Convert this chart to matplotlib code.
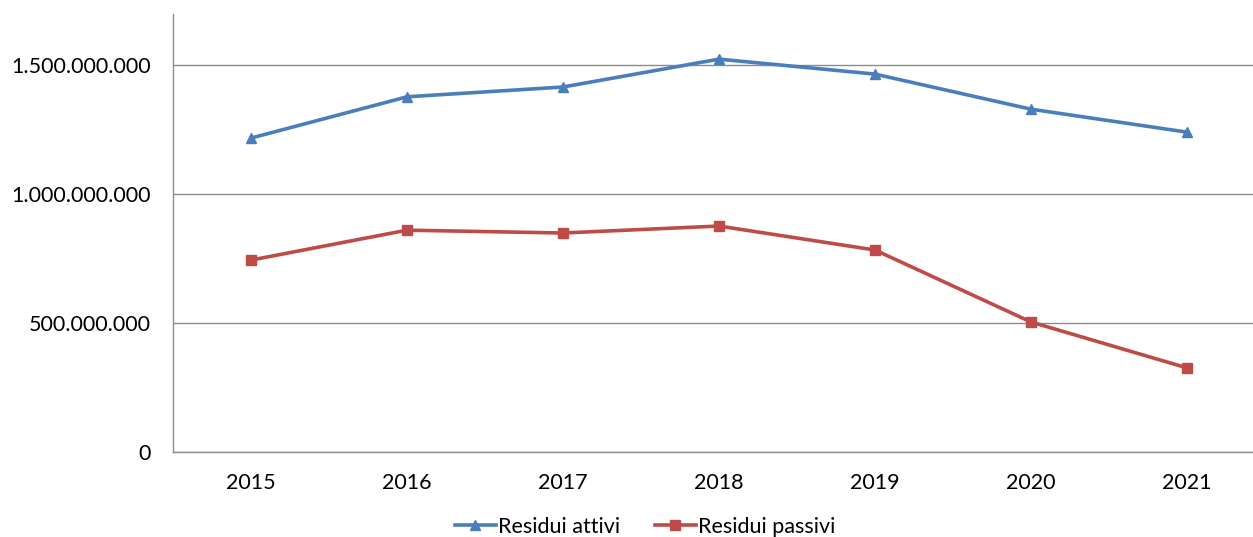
import matplotlib
matplotlib.use("Agg")
import matplotlib.pyplot as plt
from matplotlib.ticker import FuncFormatter

years = ["2015", "2016", "2017", "2018", "2019", "2020", "2021"]
residui_attivi = [1217e6, 1377e6, 1415e6, 1523e6, 1465e6, 1329e6, 1240e6]
residui_passivi = [744e6, 860e6, 849e6, 876e6, 783e6, 504e6, 326e6]

plt.rcParams['font.family'] = ['Lato', 'DejaVu Sans']

W, H = 1253, 537
fig = plt.figure(figsize=(W/100, H/100), dpi=100)
left, right, top, bottom = 173, 1253, 14, 452
ax = fig.add_axes([left/W, 1 - bottom/H, (right-left)/W, (bottom-top)/H])

x = list(range(len(years)))
ax.plot(x, residui_attivi, color='#4A7EBB', lw=2.6, marker='^', ms=7.5, label='Residui attivi', clip_on=False)
ax.plot(x, residui_passivi, color='#BE4B48', lw=2.6, marker='s', ms=6.5, label='Residui passivi', clip_on=False)

ax.set_xlim(-0.5, (1253-251)/156)
ax.set_ylim(0, 1.698e9)
ax.set_yticks([0, 5e8, 1e9, 1.5e9])
ax.yaxis.set_major_formatter(FuncFormatter(lambda v, p: "0" if v == 0 else f"{int(v):,}".replace(",", ".")))
ax.set_xticks(x)
ax.set_xticklabels(years)
ax.tick_params(axis='both', length=0, labelsize=15.5, colors='black')
ax.tick_params(axis='y', pad=16)
ax.tick_params(axis='x', pad=15)
ax.grid(axis='y', color='#8C8C8C', lw=1)
ax.set_axisbelow(True)
for s in ['top', 'right']:
    ax.spines[s].set_visible(False)
for s in ['left', 'bottom']:
    ax.spines[s].set_color('#8C8C8C')
    ax.spines[s].set_linewidth(1)

leg = fig.legend(loc='center', bbox_to_anchor=(645/W, 1 - 527/H), ncol=2, frameon=False,
                 fontsize=15.5, handlelength=1.9, handletextpad=0.1, columnspacing=1.6,
                 borderpad=0)
fig.savefig("out.png", dpi=100)
